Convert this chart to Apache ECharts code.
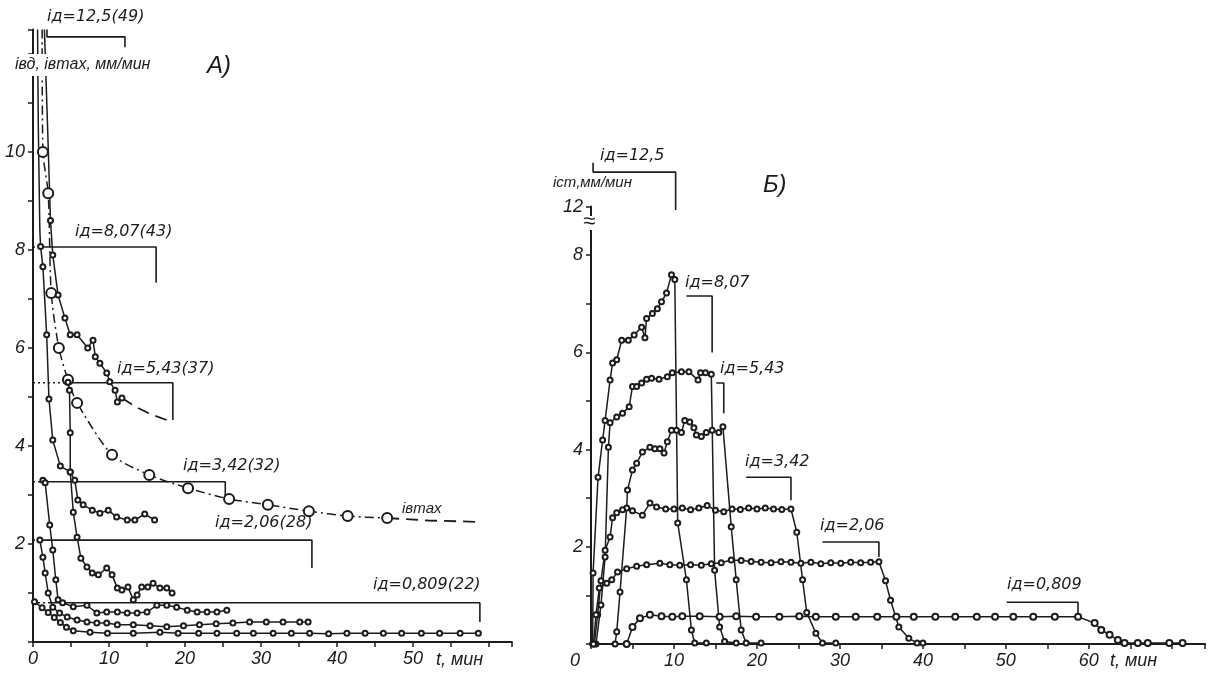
<!DOCTYPE html>
<html>
<head>
<meta charset="utf-8">
<script src="https://cdn.jsdelivr.net/npm/echarts@6/dist/echarts.min.js"></script>
<style>
  html, body { margin: 0; padding: 0; background: #fff; }
  #chart { width: 1208px; height: 677px; }
</style>
</head>
<body>
<div id="chart"></div>
<script>
// ---------- панель А: iвд, iвmax (мм/мин) от t (мин) ----------
const aMax = [[1.2, 12.5], [1.3, 10.0], [2.0, 9.16], [2.4, 7.12], [3.4, 6.0], [4.6, 5.35], [5.8, 4.88],
  [10.4, 3.82], [15.3, 3.41], [20.4, 3.14], [25.8, 2.92], [30.9, 2.80], [36.3, 2.67], [41.4, 2.57], [46.6, 2.53]];
const aMaxTail = [[46.6, 2.53], [52, 2.48], [58.8, 2.45]];

const a125 = [[1.5, 12.5], [1.9, 10.6], [2.3, 8.6], [2.6, 7.9], [3.3, 7.08], [4.2, 6.61], [4.9, 6.27], [5.8, 6.27],
  [7.2, 6.0], [7.9, 6.16], [8.2, 5.82], [8.8, 5.69], [9.7, 5.49], [10.1, 5.31], [10.8, 5.14], [11.1, 4.9], [11.7, 4.98]];
const a125Tail = [[11.7, 4.98], [13.5, 4.8], [15.5, 4.65], [18.3, 4.49]];

const a807 = [[0.6, 12.5], [0.7, 10.5], [0.9, 8.4], [1.0, 8.07], [1.3, 7.66], [1.8, 6.27], [2.1, 4.96], [2.6, 4.12],
  [3.6, 3.59], [4.9, 3.47], [5.5, 3.3], [5.9, 2.9], [6.6, 2.8], [7.8, 2.69], [8.8, 2.63], [9.9, 2.69],
  [11.0, 2.55], [12.4, 2.49], [13.4, 2.49], [14.7, 2.61], [16.0, 2.49]];

const a543 = [[4.6, 5.3], [4.8, 5.14], [4.9, 4.27], [4.9, 3.47], [5.3, 2.65], [5.8, 2.14], [6.3, 1.71], [7.1, 1.53],
  [7.8, 1.41], [8.6, 1.37], [9.7, 1.51], [10.4, 1.37], [11.1, 1.1], [11.7, 1.06], [12.5, 1.12], [13.2, 0.86],
  [13.7, 0.96], [14.3, 1.12], [15.1, 1.12], [15.8, 1.2], [16.7, 1.1], [17.6, 1.1], [18.3, 1.0]];

const a342 = [[1.3, 3.3], [1.6, 3.25], [2.2, 2.39], [2.6, 1.88], [3.0, 1.27], [3.3, 0.86], [3.9, 0.8], [5.3, 0.72],
  [7.1, 0.75], [8.4, 0.59], [9.7, 0.61], [11.1, 0.61], [12.4, 0.59], [13.7, 0.59], [15.0, 0.61], [16.3, 0.75],
  [17.6, 0.75], [18.9, 0.71], [20.3, 0.65], [21.6, 0.61], [22.9, 0.61], [24.2, 0.61], [25.5, 0.65]];

const a206 = [[0.9, 2.08], [1.3, 1.73], [1.6, 1.41], [2.0, 1.0], [2.6, 0.71], [3.5, 0.59], [4.5, 0.51], [5.8, 0.45],
  [7.1, 0.41], [8.4, 0.39], [9.7, 0.39], [11.1, 0.35], [13.2, 0.35], [15.4, 0.33], [17.6, 0.31], [19.8, 0.33],
  [21.9, 0.35], [24.1, 0.37], [26.3, 0.39], [28.5, 0.41], [30.7, 0.41], [32.9, 0.41], [35.1, 0.41], [36.2, 0.41]];

const a0809 = [[0.2, 0.82], [1.2, 0.7], [2.0, 0.6], [2.8, 0.5], [3.6, 0.4], [4.4, 0.3], [5.3, 0.23], [7.5, 0.2],
  [9.8, 0.18], [13.2, 0.18], [16.7, 0.2], [19.1, 0.18], [21.8, 0.18], [24.2, 0.18], [26.8, 0.18], [29.0, 0.18],
  [31.6, 0.18], [34.0, 0.18], [36.4, 0.18], [38.9, 0.17], [41.3, 0.18], [43.7, 0.18], [46.1, 0.18], [48.5, 0.18],
  [51.1, 0.18], [53.5, 0.18], [56.2, 0.18], [58.6, 0.18]];

// скобки дозирования (сплошные) и пунктир от оси
const aBr125 = [[1.84, 12.5], [1.84, 12.35], [12.1, 12.35], [12.1, 12.14]];
const aBr807 = [[1.0, 8.06], [16.2, 8.06], [16.2, 7.33]];
const aBr543 = [[4.6, 5.29], [18.4, 5.29], [18.4, 4.53]];
const aBr342 = [[1.3, 3.27], [25.3, 3.27], [25.3, 2.86]];
const aBr206 = [[0.9, 2.08], [36.7, 2.08], [36.7, 1.51]];
const aBr0809 = [[2.0, 0.8], [58.8, 0.8], [58.8, 0.41]];
const aDots = [[[0, 5.29], [4.6, 5.29]], [[0, 3.27], [1.3, 3.27]], [[0, 2.08], [0.9, 2.08]], [[0, 0.8], [2.0, 0.8]], [[0, 8.06], [1.0, 8.06]]];

// ---------- панель Б: iст (мм/мин) от t (мин) ----------
const b125 = [[0.2, 0], [0.25, 1.46], [0.85, 3.43], [1.4, 4.2], [1.7, 4.6], [2.3, 5.43], [2.6, 5.78], [3.1, 5.85],
  [3.7, 6.25], [4.5, 6.25], [5.2, 6.36], [6.1, 6.52], [6.5, 6.3], [6.7, 6.7], [7.4, 6.8], [8.0, 6.9], [8.5, 7.04],
  [9.1, 7.22], [9.7, 7.6], [10.1, 7.5], [10.45, 2.49], [11.5, 1.32], [12.1, 0.29], [12.5, 0.02], [13.9, 0.02]];

const b807 = [[0.6, 0], [1.2, 0.8], [1.7, 1.79], [2.1, 4.05], [2.3, 4.55], [3.1, 4.67], [3.8, 4.75], [4.6, 4.88],
  [5.0, 5.3], [5.5, 5.3], [6.1, 5.37], [6.7, 5.45], [7.3, 5.47], [8.2, 5.45], [9.2, 5.5], [9.8, 5.58], [10.9, 5.6],
  [11.8, 5.6], [12.9, 5.43], [13.2, 5.58], [13.8, 5.58], [14.5, 5.55], [14.9, 1.52], [15.5, 0.35], [16.1, 0.05], [17.5, 0.02]];

const b543 = [[2.9, 0], [3.1, 0.25], [3.5, 1.07], [4.3, 2.8], [4.4, 3.17], [5.0, 3.58], [5.5, 3.72], [6.2, 3.95],
  [7.1, 4.05], [7.7, 4.02], [8.3, 4.02], [8.8, 3.93], [9.2, 4.16], [9.7, 4.4], [10.3, 4.4], [10.9, 4.35], [11.3, 4.6],
  [11.9, 4.57], [12.4, 4.45], [12.7, 4.3], [13.3, 4.27], [13.9, 4.35], [14.6, 4.4], [15.4, 4.35], [15.9, 4.47],
  [16.9, 2.41], [17.5, 1.32], [18.1, 0.29], [18.7, 0.02], [20.5, 0.02]];

const b342 = [[0.4, 0], [0.8, 0.6], [1.2, 1.3], [1.7, 1.93], [2.3, 2.2], [2.6, 2.6], [3.1, 2.7], [3.8, 2.76],
  [5.0, 2.74], [6.2, 2.65], [7.1, 2.9], [7.9, 2.82], [9.0, 2.78], [10.0, 2.78], [11.0, 2.8], [12.0, 2.76],
  [13.0, 2.8], [14.0, 2.85], [15.0, 2.75], [16.0, 2.72], [17.0, 2.78], [18.0, 2.77], [19.0, 2.8], [20.0, 2.78],
  [21.0, 2.8], [22.0, 2.78], [23.0, 2.77], [24.1, 2.78], [24.8, 2.3], [25.5, 1.32], [26.0, 0.65], [27.1, 0.22],
  [27.9, 0.02], [29.5, 0.02]];

const b206 = [[0.3, 0], [0.6, 0.6], [1.0, 1.15], [1.9, 1.25], [2.5, 1.32], [3.2, 1.48], [4.3, 1.55], [5.5, 1.6],
  [6.7, 1.63], [8.3, 1.66], [9.5, 1.63], [10.7, 1.62], [12.0, 1.63], [13.3, 1.62], [14.5, 1.65], [15.7, 1.67],
  [16.9, 1.73], [18.1, 1.72], [19.3, 1.7], [20.5, 1.68], [21.7, 1.67], [22.9, 1.69], [24.1, 1.68], [25.3, 1.66],
  [26.5, 1.68], [27.7, 1.65], [28.9, 1.67], [30.1, 1.66], [31.3, 1.68], [32.5, 1.67], [33.7, 1.68], [34.7, 1.69],
  [35.5, 1.3], [36.1, 0.9], [37.1, 0.35], [38.3, 0.12], [39.3, 0.02], [40.0, 0.02]];

const b0809 = [[4.3, 0], [5.0, 0.35], [5.9, 0.53], [7.1, 0.6], [8.5, 0.57], [9.8, 0.56], [11.0, 0.57], [13.1, 0.57],
  [15.5, 0.56], [17.5, 0.57], [19.9, 0.56], [22.7, 0.56], [25.1, 0.57], [27.1, 0.56], [29.5, 0.56], [31.9, 0.56],
  [34.5, 0.56], [36.8, 0.56], [38.9, 0.56], [41.5, 0.56], [43.9, 0.56], [46.5, 0.56], [48.7, 0.56], [50.9, 0.56],
  [53.3, 0.56], [55.9, 0.56], [58.7, 0.56], [60.7, 0.43], [61.5, 0.29], [62.5, 0.19], [63.5, 0.08], [64.3, 0.02],
  [65.9, 0.02], [67.1, 0.02], [69.7, 0.02], [71.3, 0.02]];

const bBr125 = [[0.25, 9.9], [0.25, 9.71], [10.2, 9.71], [10.2, 8.93]];
const bBr807 = [[11.5, 7.16], [14.6, 7.16], [14.6, 6.0]];
const bBr543 = [[15.1, 5.37], [16.0, 5.37], [16.0, 4.75]];
const bBr342 = [[18.7, 3.43], [24.1, 3.43], [24.1, 2.96]];
const bBr206 = [[27.9, 2.1], [34.7, 2.1], [34.7, 1.79]];
const bBr0809 = [[50.1, 0.86], [58.7, 0.86], [58.7, 0.6]];

const ink = '#1c1c1c';
const fontFam = '"Liberation Sans", "DejaVu Sans", sans-serif';
// у DejaVu наклон простой, «д» сохраняет прямую форму
const doseFam = '"DejaVu Sans", sans-serif';

function curve(data, g, extra) {
  return Object.assign({
    type: 'line', xAxisIndex: g, yAxisIndex: g, data: data,
    symbol: 'emptyCircle', symbolSize: 6,
    lineStyle: { color: ink, width: 1.5 },
    itemStyle: { color: ink, borderColor: ink, borderWidth: 1.2 },
    silent: true, animation: false,
  }, extra || {});
}
function bracket(data, g, type, clip) {
  return {
    type: 'line', xAxisIndex: g, yAxisIndex: g, data: data, symbol: 'none',
    lineStyle: { color: ink, width: 1.6, type: type || 'solid' },
    clip: clip !== false, silent: true, animation: false,
  };
}
function label(text, x, y, size, fam) {
  return {
    type: 'text', x: x, y: y, z: 101,
    style: {
      text: text, fill: ink, font: 'italic ' + size + 'px ' + (fam || fontFam),
      textAlign: 'left', textVerticalAlign: 'middle', align: 'left', verticalAlign: 'middle',
    },
  };
}
const dose = (text, x, y) => label(text, x, y, 16, doseFam);

const axisText = { color: ink, fontSize: 18, fontStyle: 'italic', fontFamily: fontFam };
const axisLine = { show: true, onZero: false, lineStyle: { color: ink, width: 2 } };
const tick = { show: true, length: 5, lineStyle: { color: ink, width: 1.5 } };

const option = {
  backgroundColor: '#fff',
  animation: false,
  grid: [
    { left: 33, top: 29.5, width: 478.8, height: 612.5 },
    { left: 591, top: 206.6, width: 616, height: 437.4 },
  ],
  xAxis: [
    { gridIndex: 0, type: 'value', min: 0, max: 63, interval: 5, axisLine, axisTick: tick, splitLine: { show: false },
      axisLabel: Object.assign({ margin: 8, formatter: v => (v % 10 === 0 && v <= 50) ? String(v) : '' }, axisText) },
    { gridIndex: 1, type: 'value', min: 0, max: 74, interval: 5, axisLine, axisTick: tick, splitLine: { show: false },
      axisLabel: Object.assign({ margin: 8, formatter: v => (v % 10 === 0 && v > 0 && v <= 60) ? String(v) : '' }, axisText) },
  ],
  yAxis: [
    { gridIndex: 0, type: 'value', min: 0, max: 12.5, interval: 1, axisLine, axisTick: tick, splitLine: { show: false },
      axisLabel: Object.assign({ margin: 8, formatter: v => (v % 2 === 0 && v > 0 && v <= 10) ? String(v) : '' }, axisText) },
    { gridIndex: 1, type: 'value', min: 0, max: 9, interval: 1, axisLine, axisTick: tick, splitLine: { show: false },
      axisLabel: Object.assign({ margin: 8, formatter: v => v === 9 ? '12' : ((v % 2 === 0 && v > 0) ? String(v) : '') }, axisText) },
  ],
  series: [
    // панель А
    curve(aMax.map((p, i) => i === 0 ? { value: p, symbol: 'none' } : p), 0,
      { symbolSize: 10, smooth: 0.25, lineStyle: { color: ink, width: 1.5, type: [9, 4, 2, 4] } }),
    curve(aMaxTail, 0, { symbol: 'none', lineStyle: { color: ink, width: 1.8, type: [12, 7] } }),
    curve(a125.map((p, i) => i < 2 ? { value: p, symbol: 'none' } : p), 0, { symbolSize: 5 }),
    curve(a125Tail, 0, { symbol: 'none', lineStyle: { color: ink, width: 1.8, type: [12, 7] } }),
    curve(a807.map((p, i) => i < 3 ? { value: p, symbol: 'none' } : p), 0, { symbolSize: 5 }),
    curve(a543, 0, { symbolSize: 5 }),
    curve(a342, 0, { symbolSize: 5 }),
    curve(a206, 0, { symbolSize: 5 }),
    curve(a0809, 0, { symbolSize: 5 }),
    bracket(aBr125, 0), bracket(aBr807, 0), bracket(aBr543, 0), bracket(aBr342, 0),
    bracket(aBr206, 0), bracket(aBr0809, 0),
    ...aDots.map(d => bracket(d, 0, [2, 3])),
    // панель Б
    curve(b125, 1, { symbolSize: 5 }),
    curve(b807, 1, { symbolSize: 5 }),
    curve(b543, 1, { symbolSize: 5 }),
    curve(b342, 1, { symbolSize: 5 }),
    curve(b206, 1, { symbolSize: 5 }),
    curve(b0809, 1, { symbolSize: 6 }),
    bracket(bBr125, 1, 'solid', false), bracket(bBr807, 1), bracket(bBr543, 1),
    bracket(bBr342, 1), bracket(bBr206, 1), bracket(bBr0809, 1),
  ],
  graphic: [
    { type: 'rect', z: 100, shape: { x: 12, y: 54, width: 158, height: 22 }, style: { fill: '#fff' } },
    label('iвд, iвmax, мм/мин', 15, 65, 16),
    dose('iд=12,5(49)', 47, 17),
    label('A)', 207, 66, 24),
    dose('iд=8,07(43)', 75, 232),
    dose('iд=5,43(37)', 117, 369),
    dose('iд=3,42(32)', 183, 466),
    label('iвmax', 402, 509, 15),
    dose('iд=2,06(28)', 215, 523),
    dose('iд=0,809(22)', 373, 585),
    label('t, мин', 436, 660, 18),
    // панель Б
    { type: 'rect', z: 100, shape: { x: 586, y: 216, width: 12, height: 14 }, style: { fill: '#fff' } },
    label('≈', 583, 222, 22),
    dose('iд=12,5', 600, 156),
    label('iст,мм/мин', 553, 183, 15),
    label('Б)', 763, 185, 24),
    dose('iд=8,07', 685, 283),
    dose('iд=5,43', 720, 369),
    dose('iд=3,42', 745, 462),
    dose('iд=2,06', 820, 526),
    dose('iд=0,809', 1007, 585),
    label('0', 570, 661, 18),
    label('t, мин', 1110, 661, 18),
  ],
};

const chart = echarts.init(document.getElementById('chart'));
chart.setOption(option);
</script>
</body>
</html>
